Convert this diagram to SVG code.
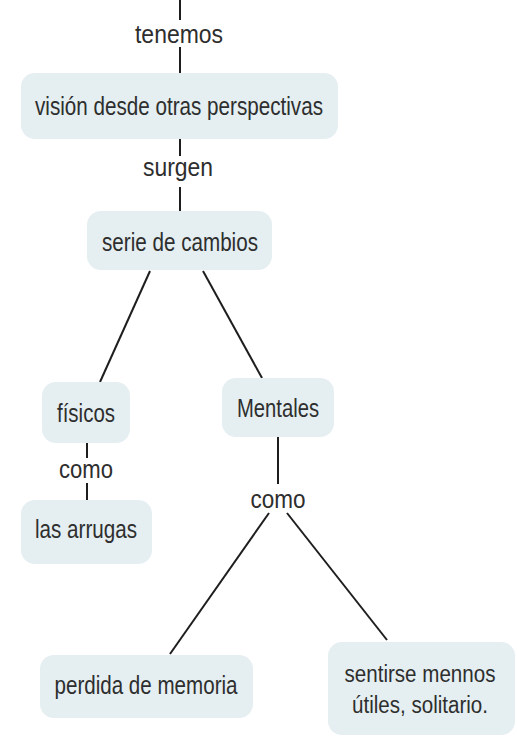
<svg xmlns="http://www.w3.org/2000/svg" width="517" height="743" viewBox="0 0 517 743">
<style>
.box{fill:#e5eef1;}
.t{font-family:"Liberation Sans",Arial,sans-serif;font-size:26px;fill:#2e2e2e;text-anchor:middle;}
.s{font-size:23px;}
.c{stroke:#1e1e1e;stroke-width:2;fill:none;}
</style>
<rect width="517" height="743" fill="#ffffff"/>
<g id="connectors">
<line class="c" x1="180" y1="0" x2="180" y2="20"/>
<line class="c" x1="180" y1="47" x2="180" y2="73"/>
<line class="c" x1="180" y1="139" x2="180" y2="156"/>
<line class="c" x1="180" y1="187" x2="180" y2="211"/>
<line class="c" x1="150" y1="271" x2="100" y2="382"/>
<line class="c" x1="203" y1="271" x2="262" y2="378"/>
<line class="c" x1="87" y1="443" x2="87" y2="458"/>
<line class="c" x1="87" y1="483" x2="87" y2="500"/>
<line class="c" x1="278" y1="437" x2="278" y2="484"/>
<line class="c" x1="269" y1="513" x2="170" y2="654"/>
<line class="c" x1="287" y1="513" x2="387" y2="640"/>
<text class="t" x="179" y="43" textLength="88" lengthAdjust="spacingAndGlyphs">tenemos</text>
<text class="t" x="178" y="176" textLength="70" lengthAdjust="spacingAndGlyphs">surgen</text>
<text class="t" x="86" y="478" textLength="54" lengthAdjust="spacingAndGlyphs">como</text>
<text class="t" x="278" y="508" textLength="55" lengthAdjust="spacingAndGlyphs">como</text>
</g>
<g id="n-vision">
<rect class="box" x="21" y="73" width="317" height="66" rx="14"/>
<text class="t" x="179" y="115" textLength="288" lengthAdjust="spacingAndGlyphs">visión desde otras perspectivas</text>
</g>
<g id="n-serie">
<rect class="box" x="87" y="211" width="185" height="59" rx="14"/>
<text class="t" x="180" y="251" textLength="156" lengthAdjust="spacingAndGlyphs">serie de cambios</text>
</g>
<g id="n-fisicos">
<rect class="box" x="42" y="382" width="88" height="61" rx="14"/>
<text class="t" x="86" y="422" textLength="58" lengthAdjust="spacingAndGlyphs">físicos</text>
</g>
<g id="n-mentales">
<rect class="box" x="222" y="378" width="112" height="59" rx="14"/>
<text class="t" x="278" y="417" textLength="82" lengthAdjust="spacingAndGlyphs">Mentales</text>
</g>
<g id="n-arrugas">
<rect class="box" x="21" y="500" width="131" height="64" rx="14"/>
<text class="t" x="86" y="538" textLength="102" lengthAdjust="spacingAndGlyphs">las arrugas</text>
</g>
<g id="n-perdida">
<rect class="box" x="40" y="655" width="213" height="63" rx="14"/>
<text class="t" x="146" y="694" textLength="183" lengthAdjust="spacingAndGlyphs">perdida de memoria</text>
</g>
<g id="n-sentirse">
<rect class="box" x="328" y="642" width="187" height="93" rx="14"/>
<text class="t s" x="420" y="682" textLength="151" lengthAdjust="spacingAndGlyphs">sentirse mennos</text>
<text class="t s" x="420" y="713" textLength="136" lengthAdjust="spacingAndGlyphs">útiles, solitario.</text>
</g>
</svg>
